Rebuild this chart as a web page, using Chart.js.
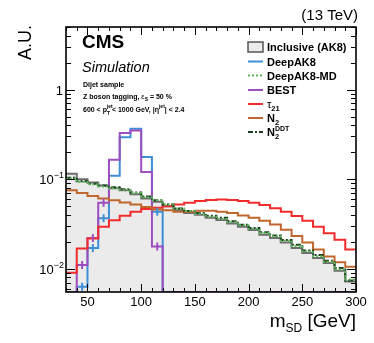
<!DOCTYPE html>
<html>
<head>
<meta charset="utf-8">
<script src="https://cdn.jsdelivr.net/npm/chart.js@4.4.0/dist/chart.umd.min.js"></script>
<style>
html, body { margin: 0; padding: 0; background: #fff; }
</style>
</head>
<body>
<canvas id="msd" width="374" height="343"></canvas>
<script>
// soft drop mass bins, 10 GeV wide
var binLow = [30, 40, 50, 60, 70, 80, 90, 100, 110, 120, 130, 140, 150, 160, 170, 180, 190, 200, 210, 220, 230, 240, 250, 260, 270, 280, 290];
var binHigh = 300;

var inclusiveAK8 = [0.115, 0.100, 0.092, 0.085, 0.079, 0.075, 0.068, 0.061, 0.056, 0.050, 0.045, 0.042, 0.040, 0.037, 0.035, 0.032, 0.0295, 0.027, 0.024, 0.022, 0.0196, 0.017, 0.015, 0.0132, 0.0116, 0.0095, 0.0072];
var deepAK8 = [0, 0.0063, 0.017, 0.0366, 0.109, 0.293, 0.366, 0.177, 0.0434, 0, 0, 0, 0, 0, 0, 0, 0, 0, 0, 0, 0, 0, 0, 0, 0, 0, 0];
var deepAK8MD = [0.102, 0.093, 0.088, 0.083, 0.079, 0.076, 0.070, 0.063, 0.058, 0.052, 0.047, 0.044, 0.041, 0.038, 0.036, 0.033, 0.0305, 0.028, 0.025, 0.023, 0.0205, 0.018, 0.0157, 0.0138, 0.012, 0.0098, 0.0076];
var best = [0, 0.011, 0.022, 0.0545, 0.165, 0.327, 0.35, 0.12, 0.0177, 0, 0, 0, 0, 0, 0, 0, 0, 0, 0, 0, 0, 0, 0, 0, 0, 0, 0];
var tau21 = [0.0090, 0.0168, 0.0218, 0.0295, 0.0347, 0.039, 0.0434, 0.0464, 0.048, 0.050, 0.052, 0.0545, 0.057, 0.0585, 0.0594, 0.0585, 0.057, 0.0545, 0.0514, 0.0474, 0.0434, 0.0387, 0.0344, 0.0295, 0.0249, 0.0211, 0.0164];
var n2 = [0.075, 0.070, 0.065, 0.061, 0.058, 0.055, 0.052, 0.049, 0.046, 0.045, 0.0434, 0.0434, 0.0443, 0.0443, 0.0434, 0.0418, 0.0394, 0.0371, 0.0344, 0.0311, 0.0272, 0.0232, 0.0196, 0.0164, 0.0137, 0.0118, 0.0105];
var n2DDT = [0.104, 0.095, 0.089, 0.085, 0.081, 0.077, 0.071, 0.064, 0.058, 0.052, 0.047, 0.044, 0.042, 0.039, 0.037, 0.034, 0.031, 0.0285, 0.0255, 0.0235, 0.021, 0.0185, 0.016, 0.0142, 0.0123, 0.0102, 0.0074];

var xTickLabels = [50, 100, 150, 200, 250, 300];
var yDecades = [1, 0.1, 0.01];

var yMin = 0.0055, yMax = 5;
var FONT = '"Liberation Sans", Arial, Helvetica, sans-serif';

// step histogram: one point per low edge, plus the last upper edge
function hist(vals) {
	var pts = [];
	for (var i = 0; i < binLow.length; i++) {
		pts.push({ x: binLow[i], y: vals[i] > 0 ? vals[i] : yMin });
	}
	pts.push({ x: binHigh, y: vals[vals.length - 1] > 0 ? vals[vals.length - 1] : yMin });
	return pts;
}

function line(label, vals, color, dash, order) {
	return {
		label: label,
		data: hist(vals),
		borderColor: color,
		borderWidth: 2,
		borderDash: dash || [],
		stepped: 'before',
		pointRadius: 0,
		fill: false,
		order: order
	};
}

function f(size, weight, style) {
	return (style || '') + ' ' + (weight || '') + ' ' + size + 'px ' + FONT;
}

// draws a run of text pieces: {t, size, weight, style, dy}
function rich(c, parts, x, y, align) {
	var total = 0;
	parts.forEach(function (p) {
		c.font = f(p.size, p.weight, p.style);
		p.w = c.measureText(p.t).width;
		if (!p.stack) total += p.w;
	});
	var cx = align === 'right' ? x - total : (align === 'center' ? x - total / 2 : x);
	var prevX = cx;
	parts.forEach(function (p) {
		c.font = f(p.size, p.weight, p.style);
		c.textAlign = 'left';
		var px = p.stack ? prevX : cx;
		c.fillText(p.t, px, y + (p.dy || 0));
		prevX = px;
		if (!p.stack) cx = px + p.w;
	});
}

var decor = {
	id: 'decor',
	afterDatasetsDraw: function (chart) {
		var c = chart.ctx, a = chart.chartArea;
		var xs = chart.scales.x, ys = chart.scales.y;
		c.save();

		// error bar crosses on the tagged distributions
		[[deepAK8, '#3f8fd6'], [best, '#9d4fc0']].forEach(function (s) {
			c.strokeStyle = s[1];
			c.lineWidth = 2;
			s[0].forEach(function (v, i) {
				if (v <= 0 || v > 0.06) return;
				var px = xs.getPixelForValue(binLow[i] + 5), py = ys.getPixelForValue(v);
				c.beginPath();
				c.moveTo(px, py - 4);
				c.lineTo(px, py + 4);
				c.stroke();
			});
		});

		// frame
		c.strokeStyle = '#000';
		c.lineWidth = 1.6;
		c.strokeRect(a.left, a.top, a.right - a.left, a.bottom - a.top);

		// x ticks, inward, bottom and top
		c.lineWidth = 1;
		for (var g = 30; g <= 300; g += 10) {
			var px = Math.round(xs.getPixelForValue(g)) + 0.5;
			var len = g % 50 === 0 ? 8 : 4;
			c.beginPath();
			c.moveTo(px, a.bottom); c.lineTo(px, a.bottom - len);
			c.moveTo(px, a.top); c.lineTo(px, a.top + len);
			c.stroke();
		}
		// y ticks, log
		for (var d = 0.001; d <= 10; d *= 10) {
			for (var k = 1; k <= 9; k++) {
				var v = d * k;
				if (v < yMin || v > yMax) continue;
				var py = Math.round(ys.getPixelForValue(v)) + 0.5;
				var l = k === 1 ? 9 : 5;
				c.beginPath();
				c.moveTo(a.left, py); c.lineTo(a.left + l, py);
				c.moveTo(a.right, py); c.lineTo(a.right - l, py);
				c.stroke();
			}
		}

		c.fillStyle = '#000';
		c.textBaseline = 'alphabetic';
		// x tick labels
		xTickLabels.forEach(function (t) {
			rich(c, [{ t: String(t), size: 13 }], xs.getPixelForValue(t), a.bottom + 14, 'center');
		});
		// y tick labels
		yDecades.forEach(function (v) {
			var py = ys.getPixelForValue(v) + 5;
			if (v === 1) {
				rich(c, [{ t: '1', size: 13 }], a.left - 3, py, 'right');
			} else {
				var e = Math.round(Math.log10(v));
				rich(c, [{ t: '10', size: 13 }, { t: '\u2212' + (-e), size: 9, dy: -6 }], a.left - 2, py, 'right');
			}
		});

		// axis titles
		rich(c, [{ t: 'm', size: 19 }, { t: 'SD', size: 12, dy: 5 }, { t: ' [GeV]', size: 19 }], 356, 327, 'right');
		c.save();
		c.translate(31, 25);
		c.rotate(-Math.PI / 2);
		rich(c, [{ t: 'A.U.', size: 18 }], 0, 0, 'right');
		c.restore();
		rich(c, [{ t: '(13 TeV)', size: 15 }], 358, 20, 'right');

		// CMS labels
		rich(c, [{ t: 'CMS', size: 19, weight: 'bold' }], 82, 48, 'left');
		rich(c, [{ t: 'Simulation', size: 14.5, style: 'italic' }], 82, 72, 'left');
		rich(c, [{ t: 'Dijet sample', size: 7, weight: 'bold' }], 83, 87, 'left');
		rich(c, [
			{ t: 'Z boson tagging, ', size: 7, weight: 'bold' },
			{ t: '\u03b5', size: 7.5 },
			{ t: 'S', size: 5, weight: 'bold', dy: 2 },
			{ t: ' = 50 %', size: 7, weight: 'bold' }
		], 83, 99, 'left');
		rich(c, [
			{ t: '600 < p', size: 7, weight: 'bold' },
			{ t: 'T', size: 5, weight: 'bold', dy: 2.5 },
			{ t: 'jet', size: 5, weight: 'bold', dy: -4, stack: true },
			{ t: ' < 1000 GeV, |\u03b7', size: 7, weight: 'bold' },
			{ t: 'jet', size: 5, weight: 'bold', dy: -4 },
			{ t: '| < 2.4', size: 7, weight: 'bold' }
		], 83, 112, 'left');

		// legend
		var lx0 = 248, lx1 = 263, tx = 267;
		var rows = [47, 61.5, 75.5, 90, 104, 118, 132];
		c.fillStyle = '#ebebeb';
		c.fillRect(lx0, rows[0] - 5, lx1 - lx0, 10);
		c.strokeStyle = '#555';
		c.lineWidth = 1.5;
		c.strokeRect(lx0, rows[0] - 5, lx1 - lx0, 10);
		var samples = [
			['#3f8fd6', []], ['#5cb85c', [2, 2]], ['#9d4fc0', []],
			['#f22c2c', []], ['#c0672e', []], ['#1e3d1e', [5, 2, 2, 2]]
		];
		samples.forEach(function (s, i) {
			c.strokeStyle = s[0];
			c.lineWidth = 2;
			c.setLineDash(s[1]);
			c.beginPath();
			c.moveTo(lx0, rows[i + 1]); c.lineTo(lx1, rows[i + 1]);
			c.stroke();
		});
		c.setLineDash([]);
		c.fillStyle = '#000';
		var b = 4;
		rich(c, [{ t: 'Inclusive (AK8)', size: 11, weight: 'bold' }], tx, rows[0] + b, 'left');
		rich(c, [{ t: 'DeepAK8', size: 11, weight: 'bold' }], tx, rows[1] + b, 'left');
		rich(c, [{ t: 'DeepAK8-MD', size: 11, weight: 'bold' }], tx, rows[2] + b, 'left');
		rich(c, [{ t: 'BEST', size: 11, weight: 'bold' }], tx, rows[3] + b, 'left');
		rich(c, [{ t: '\u03c4', size: 11 }, { t: '21', size: 7.5, weight: 'bold', dy: 3 }], tx, rows[4] + b, 'left');
		rich(c, [{ t: 'N', size: 11, weight: 'bold' }, { t: '2', size: 7.5, weight: 'bold', dy: 3 }], tx, rows[5] + b, 'left');
		rich(c, [{ t: 'N', size: 11, weight: 'bold' }, { t: '2', size: 7.5, weight: 'bold', dy: 3 },
			{ t: 'DDT', size: 7, weight: 'bold', dy: -5, stack: true }], tx, rows[6] + b, 'left');

		c.restore();
	}
};

var config = {
	type: 'line',
	data: {
		datasets: [
			line('N2DDT', n2DDT, '#1e3d1e', [5, 2, 2, 2], 1),
			line('N2', n2, '#c0672e', [], 2),
			line('tau21', tau21, '#f22c2c', [], 3),
			line('BEST', best, '#9d4fc0', [], 4),
			line('DeepAK8-MD', deepAK8MD, '#5cb85c', [2, 2], 0),
			line('DeepAK8', deepAK8, '#3f8fd6', [], 5),
			{
				label: 'Inclusive (AK8)',
				data: hist(inclusiveAK8),
				borderColor: '#6e6e6e',
				backgroundColor: '#ebebeb',
				borderWidth: 2,
				stepped: 'before',
				pointRadius: 0,
				fill: 'start',
				order: 10
			}
		]
	},
	options: {
		responsive: false,
		animation: false,
		events: [],
		layout: {
			padding: { left: 66, right: 18, top: 27, bottom: 51 }
		},
		plugins: {
			legend: { display: false },
			tooltip: { enabled: false }
		},
		scales: {
			x: { type: 'linear', min: 30, max: 300, display: false },
			y: { type: 'logarithmic', min: yMin, max: yMax, display: false }
		}
	},
	plugins: [decor]
};

var chart = new Chart(document.getElementById('msd').getContext('2d'), config);
</script>
</body>
</html>
